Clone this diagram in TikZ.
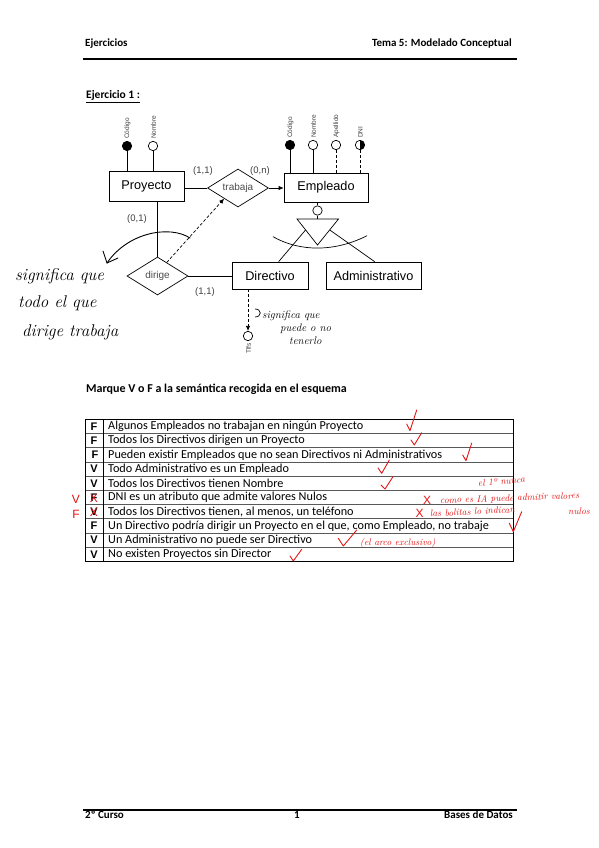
\documentclass[tikz,border=0pt]{standalone}
\usepackage{fontspec}
\usetikzlibrary{shapes.geometric,arrows.meta,calc}
\newfontfamily\carl{Carlito}
\newfontfamily\ersans{Liberation Sans}
\definecolor{penred}{RGB}{228,22,22}
\tikzset{
 erbox/.style={draw, line width=0.7pt, rectangle, inner sep=0pt, font=\ersans\fontsize{12.7}{15}\selectfont},
 rel/.style={draw, line width=0.7pt, diamond, shape aspect=1.6, inner sep=0pt, minimum width=61pt, minimum height=38pt, font=\ersans\fontsize{10}{12}\selectfont, text=black!70},
 attr/.style={draw, circle, line width=0.7pt, inner sep=0pt, minimum size=9.4pt, fill=white},
 attrlab/.style={rotate=90, inner sep=0.5pt, font=\ersans\fontsize{6.5}{7}\selectfont, text=black!75},
 card/.style={font=\ersans\fontsize{9.5}{11}\selectfont, text=black!75, inner sep=0pt},
 conn/.style={line width=0.7pt},
 opt/.style={line width=0.7pt, dash pattern=on 3pt off 2pt},
 tip/.style={-{Latex[length=5pt,width=4.5pt]}},
 hdr/.style={font=\carl\bfseries\fontsize{11}{13}\selectfont, inner sep=0pt},
 rowtxt/.style={anchor=west, inner sep=0pt, font=\carl\fontsize{12.2}{14}\selectfont},
 colmark/.style={inner sep=0pt, font=\ersans\bfseries\fontsize{11}{13}\selectfont},
 hand/.style={inner sep=0pt, anchor=base west, font=\itshape\fontsize{17}{20}\selectfont},
 smallhand/.style={inner sep=0pt, anchor=base west, font=\itshape\fontsize{11}{13}\selectfont},
 redhand/.style={inner sep=0pt, anchor=base west, text=penred, font=\itshape\fontsize{9.5}{11}\selectfont},
 redx/.style={inner sep=0pt, text=penred, font=\ersans\fontsize{12}{14}\selectfont},
 redmark/.style={draw=penred, line width=0.9pt, line cap=round, line join=round},
 tabline/.style={draw=black!65, line width=1.1pt},
 inkline/.style={line width=0.9pt, line cap=round, line join=round},
}
\begin{document}
\begin{tikzpicture}[x=1pt,y=-1pt]
\useasboundingbox (0,0) rectangle (599,848);
\fill[white] (0,0) rectangle (599,848);

% ---------- header / footer ----------
\node[hdr, anchor=base west] (hleft) at (85,46.5) {Ejercicios};
\node[hdr, anchor=base east] (hright) at (512,46.5) {Tema 5: Modelado Conceptual};
\coordinate (hl1) at (83,59); \coordinate (hl2) at (517,59);
\draw[line width=1.5pt] (hl1) -- (hl2);
\coordinate (fl1) at (83,810); \coordinate (fl2) at (517,810);
\draw[line width=1.5pt] (fl1) -- (fl2);
\node[hdr, anchor=base west] (fleft) at (85,818.5) {2º Curso};
\node[hdr, anchor=base] (fmid) at (297,818.5) {1};
\node[hdr, anchor=base east] (fright) at (513,818.5) {Bases de Datos};

\node[hdr, anchor=base west, font=\carl\bfseries\fontsize{11.5}{13}\selectfont] (ej) at (86,98.5) {\underline{Ejercicio 1 :}};

% ---------- ER diagram ----------
\node[erbox, minimum width=75pt, minimum height=30pt] (proyecto) at (146.5,186) {Proyecto};
\node[erbox, minimum width=84pt, minimum height=29pt] (empleado) at (326,187.5) {Empleado};
\node[erbox, minimum width=76pt, minimum height=27pt] (directivo) at (270,275.5) {Directivo};
\node[erbox, minimum width=95pt, minimum height=27pt] (administrativo) at (373.5,275.5) {Administrativo};
\node[rel] (trabaja) at (238,188) {trabaja};
\node[rel] (dirige) at (157.5,276) {dirige};

% attributes of Proyecto
\node[attr, fill=black] (pcod) at (127,146) {};
\node[attr] (pnom) at (153,146) {};
\draw[conn] (pcod.south) -- (pcod.south |- proyecto.north);
\draw[conn] (pnom.south) -- (pnom.south |- proyecto.north);
\node[attrlab, anchor=west] (lpcod) at ($(pcod.north)+(0.5,-1.5)$) {Código};
\node[attrlab, anchor=west] (lpnom) at ($(pnom.north)+(0.5,-1.5)$) {Nombre};

% attributes of Empleado
\node[attr, fill=black] (ecod) at (290,145) {};
\node[attr] (enom) at (313,145) {};
\node[attr] (eape) at (336,145) {};
\node[attr, path picture={\fill[black] (path picture bounding box.north) rectangle (path picture bounding box.south east);}] (edni) at (360,145) {};
\draw[conn] (ecod.south) -- (ecod.south |- empleado.north);
\draw[conn] (enom.south) -- (enom.south |- empleado.north);
\draw[opt] (eape.south) -- (eape.south |- empleado.north);
\draw[opt] (edni.south) -- (edni.south |- empleado.north);
\node[attrlab, anchor=west] (lecod) at ($(ecod.north)+(0.5,-1.5)$) {Código};
\node[attrlab, anchor=west] (lenom) at ($(enom.north)+(0.5,-1.5)$) {Nombre};
\node[attrlab, anchor=west] (leape) at ($(eape.north)+(0.5,-1.5)$) {Apellido};
\node[attrlab, anchor=west] (ledni) at ($(edni.north)+(0.5,-1.5)$) {DNI};

% trabaja
\draw[conn] (proyecto.east |- trabaja.west) -- (trabaja.west);
\draw[conn, tip] (trabaja.east) -- (trabaja.east -| empleado.west);
\node[card] (c11a) at (203,171) {(1,1)};
\node[card] (c0n) at (260,171) {(0,n)};

% dirige
\draw[conn] (proyecto.south -| dirige.north) -- (dirige.north);
\draw[conn] (dirige.east) -- (dirige.east -| directivo.west);
\node[card] (c01) at (137,219) {(0,1)};
\node[card] (c11b) at (205,292) {(1,1)};
\draw[opt, tip] ($(dirige.north)!0.3!(dirige.east)$) -- ($(trabaja.south)!0.45!(trabaja.west)$);

% generalisation
\node[attr] (isa) at (317.5,210.5) {};
\draw[conn] (isa.north) -- (isa.north |- empleado.south);
\coordinate (tl) at (297,219);
\coordinate (tr) at (338.5,219);
\coordinate (tb) at (317.5,245);
\draw[conn] (isa.south) -- (isa.south |- tl);
\draw[conn] (tl) -- (tr) -- (tb) -- cycle;
\draw[conn] ($(tl)!0.42!(tb)$) -- ($(directivo.north west)+(47,0)$);
\draw[conn] ($(tr)!0.42!(tb)$) -- ($(administrativo.north west)+(49,0)$);
\coordinate (arcL) at (273,236.7);
\coordinate (arcR) at (367,235.7);
\draw[conn] (arcL) .. controls (300,252) and (335,252) .. (arcR);

% Tlfs
\node[attr] (tlf) at (248,336) {};
\draw[opt, tip] (directivo.south -| tlf) -- (tlf.north);
\node[attrlab, anchor=east] (ltlf) at ($(tlf.south)+(0.5,1.5)$) {Tlfs};

% ---------- handwritten notes (black) ----------
\node[hand] (n1) at (15,280) {significa que};
\node[hand] (n2) at (18,307) {todo el que};
\node[hand] (n3) at (22,336) {dirige trabaja};
\coordinate (ca) at (190,238);
\coordinate (cb) at (107,263);
\draw[inkline] (ca) .. controls (170,225) and (128,232) .. (cb);
\coordinate (cc) at (103,251);
\coordinate (cd) at (118,258);
\draw[inkline] (cc) -- (cb) -- (cd);

\coordinate (hk1) at (255,309);
\coordinate (hk2) at (255,317);
\draw[line width=0.7pt] (hk1) .. controls (262,309) and (262,317) .. (hk2);
\node[smallhand] (m1) at (262,318) {significa que};
\node[smallhand] (m2) at (280,331) {puede o no};
\node[smallhand] (m3) at (289,344) {tenerlo};

% ---------- question ----------
\node[hdr, anchor=base west, font=\carl\bfseries\fontsize{12}{14}\selectfont] (q) at (86,392.5) {Marque V o F a la semántica recogida en el esquema};

% ---------- table ----------
\coordinate (tnw) at (85,419.5);
\coordinate (tse) at (513.5,561.5);
\foreach \i in {1,...,9} {
  \draw[tabline] (85,{419.5+\i*14.2}) -- (513.5,{419.5+\i*14.2});
}
\draw[line width=0.8pt] (tnw) rectangle (tse);
\draw[line width=0.8pt] (103.5,419.5) -- (103.5,561.5);

\node[rowtxt] (r1) at (108,426.6) {Algunos Empleados no trabajan en ningún Proyecto};
\node[rowtxt] (r2) at (108,440.8) {Todos los Directivos dirigen un Proyecto};
\node[rowtxt] (r3) at (108,455.0) {Pueden existir Empleados que no sean Directivos ni Administrativos};
\node[rowtxt] (r4) at (108,469.2) {Todo Administrativo es un Empleado};
\node[rowtxt] (r5) at (108,483.4) {Todos los Directivos tienen Nombre};
\node[rowtxt] (r6) at (108,497.6) {DNI es un atributo que admite valores Nulos};
\node[rowtxt] (r7) at (108,511.8) {Todos los Directivos tienen, al menos, un teléfono};
\node[rowtxt] (r8) at (108,526.0) {Un Directivo podría dirigir un Proyecto en el que, como Empleado, no trabaje};
\node[rowtxt] (r9) at (108,540.2) {Un Administrativo no puede ser Directivo};
\node[rowtxt] (r10) at (108,554.4) {No existen Proyectos sin Director};

\node[colmark] (c1) at (94,426.6) {F};
\node[colmark] (c2) at (94,440.8) {F};
\node[colmark] (c3) at (95,455.0) {F};
\node[colmark] (c4) at (94,469.2) {V};
\node[colmark] (c5) at (94,483.4) {V};
\node[colmark] (c6) at (94,497.6) {F};
\node[colmark] (c7) at (94,511.8) {V};
\node[colmark] (c8) at (94,526.0) {F};
\node[colmark] (c9) at (94,540.2) {V};
\node[colmark] (c10) at (94,554.4) {V};

% ---------- red corrections ----------
\node[redx] (x6) at (94,498) {X};
\node[redx] (x7) at (94,512) {X};
\node[redx] (v6) at (76,499) {V};
\node[redx] (f7) at (76,514) {F};

\draw[redmark] (406.7,424) -- (410,430.7) -- (416.7,410);
\draw[redmark] (411,440) -- (414.3,445) -- (421.7,432.7);
\draw[redmark] (462.7,455) -- (466,460.7) -- (471.7,443);
\draw[redmark] (378,468) -- (381.7,473.3) -- (389.3,460);
\draw[redmark] (381,485) -- (385,489) -- (393,476.7);
\draw[redmark] (509.3,523.3) -- (513.3,531.7) -- (521.7,511.7);
\draw[redmark] (338.3,538.3) -- (343.3,546) -- (356.7,530);
\draw[redmark] (290,556) -- (293.3,561) -- (301.7,549.3);

\node[redx] (x6b) at (427,500) {X};
\node[redx] (x7b) at (419.5,513.5) {X};
\node[redhand, rotate=5] (t0) at (478,486.5) {el 1º nunca};
\node[redhand, rotate=2] (t1) at (440,503.5) {como es IA puede admitir valores};
\node[redhand] (t1b) at (568,514) {nulos};
\node[redhand, rotate=3] (t2) at (430,517) {las bolitas lo indican};
\node[redhand] (t3) at (360,545) {(el arco exclusivo)};
\end{tikzpicture}
\end{document}
